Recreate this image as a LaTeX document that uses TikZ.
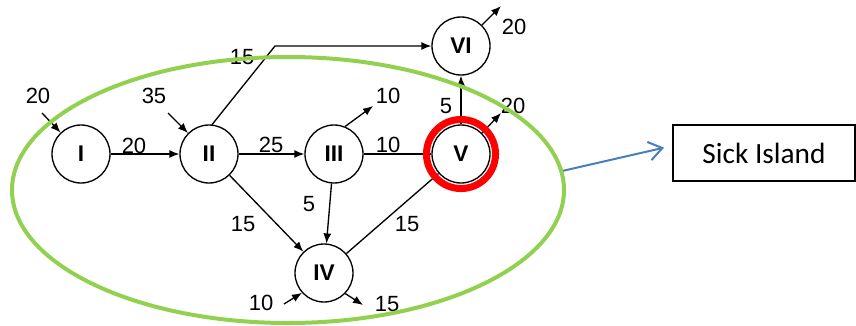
\documentclass[tikz,border=0pt]{standalone}
\usepackage{fontspec}
\setmainfont{Liberation Sans}
\newfontfamily\calibrifont{Carlito}
\usetikzlibrary{arrows.meta,shapes.geometric}

\definecolor{islgreen}{RGB}{146,208,80}
\definecolor{linkblue}{RGB}{74,126,187}

\begin{document}
\begin{tikzpicture}[x=0.75pt,y=-0.75pt,
  stn/.style={circle,draw,line width=1pt,minimum size=43.5pt,inner sep=0pt,
    font=\fontsize{17}{19}\selectfont\bfseries},
  flow/.style={line width=1pt,-{Latex[length=7.5pt,width=6pt]}},
  num/.style={font=\fontsize{16.5}{18}\selectfont,inner sep=0pt}]
\useasboundingbox (0,0) rectangle (856,325);
% stations
\node[stn] (I)   at (81,154)  {I};
\node[stn] (II)  at (209,154) {II};
\node[stn] (III) at (334,154) {III};
\node[stn] (IV)  at (324,273) {IV};
\node[stn] (V)   at (461,154) {V};
\node[stn] (VI)  at (461,46)  {VI};
% free ends of the outside flows
\coordinate (inI)   at (42,113);
\coordinate (inII)  at (168,113);
\coordinate (outIII) at (373,106);
\coordinate (outV)  at (501,113);
\coordinate (outVI) at (501,6);
\coordinate (inIV)  at (284,304);
\coordinate (outIV) at (363,305);
\coordinate (bend)  at (275,46);
% flows
\draw[flow] (inI) -- (I);
\draw[flow] (inII) -- (II);
\draw[flow] (I) -- (II);
\draw[flow] (II) -- (III);
\draw[line width=1pt] (III) -- (V);
\draw[flow] (V) -- (VI);
\draw[flow] (II.84) -- (bend) -- (VI);
\draw[flow] (II) -- (IV);
\draw[flow] (III) -- (IV);
\draw[line width=1pt] (IV) -- (V);
\draw[flow] (III.68) -- (outIII);
\draw[flow] (V.45) -- (outV);
\draw[flow] (VI.45) -- (outVI);
\draw[flow] (inIV) -- (IV.222);
\draw[flow] (IV.316) -- (outIV);
% amounts
\node[num] (a1)  at (38,96)   {20};
\node[num] (a2)  at (154,96)  {35};
\node[num] (a3)  at (242,57)  {15};
\node[num] (a4)  at (134,146) {20};
\node[num] (a5)  at (271,145) {25};
\node[num] (a6)  at (388,145) {10};
\node[num] (a7)  at (388,96)  {10};
\node[num] (a8)  at (446,106) {5};
\node[num] (a9)  at (513,106) {20};
\node[num] (a10) at (514,27)  {20};
\node[num] (a11) at (243,224) {15};
\node[num] (a12) at (309,204) {5};
\node[num] (a13) at (407,224) {15};
\node[num] (a14) at (261,303) {10};
\node[num] (a15) at (387,304) {15};
% island and sick station
\node[ellipse,draw=islgreen,line width=3pt,minimum width=414pt,minimum height=199.5pt,inner sep=0pt] (isl) at (288,190) {};
\draw[red,line width=5.25pt] (V) circle (25.9pt);
\node[draw,line width=1.4pt,minimum width=136.5pt,minimum height=42pt,
  font=\calibrifont\fontsize{22}{24}\selectfont] (sick) at (764,153) {Sick Island};
\draw[linkblue,line width=1.5pt,-{Straight Barb[length=10pt,width=14pt]}]
  (isl.4) -- ([xshift=-6pt,yshift=4pt]sick.west);
\end{tikzpicture}
\end{document}
